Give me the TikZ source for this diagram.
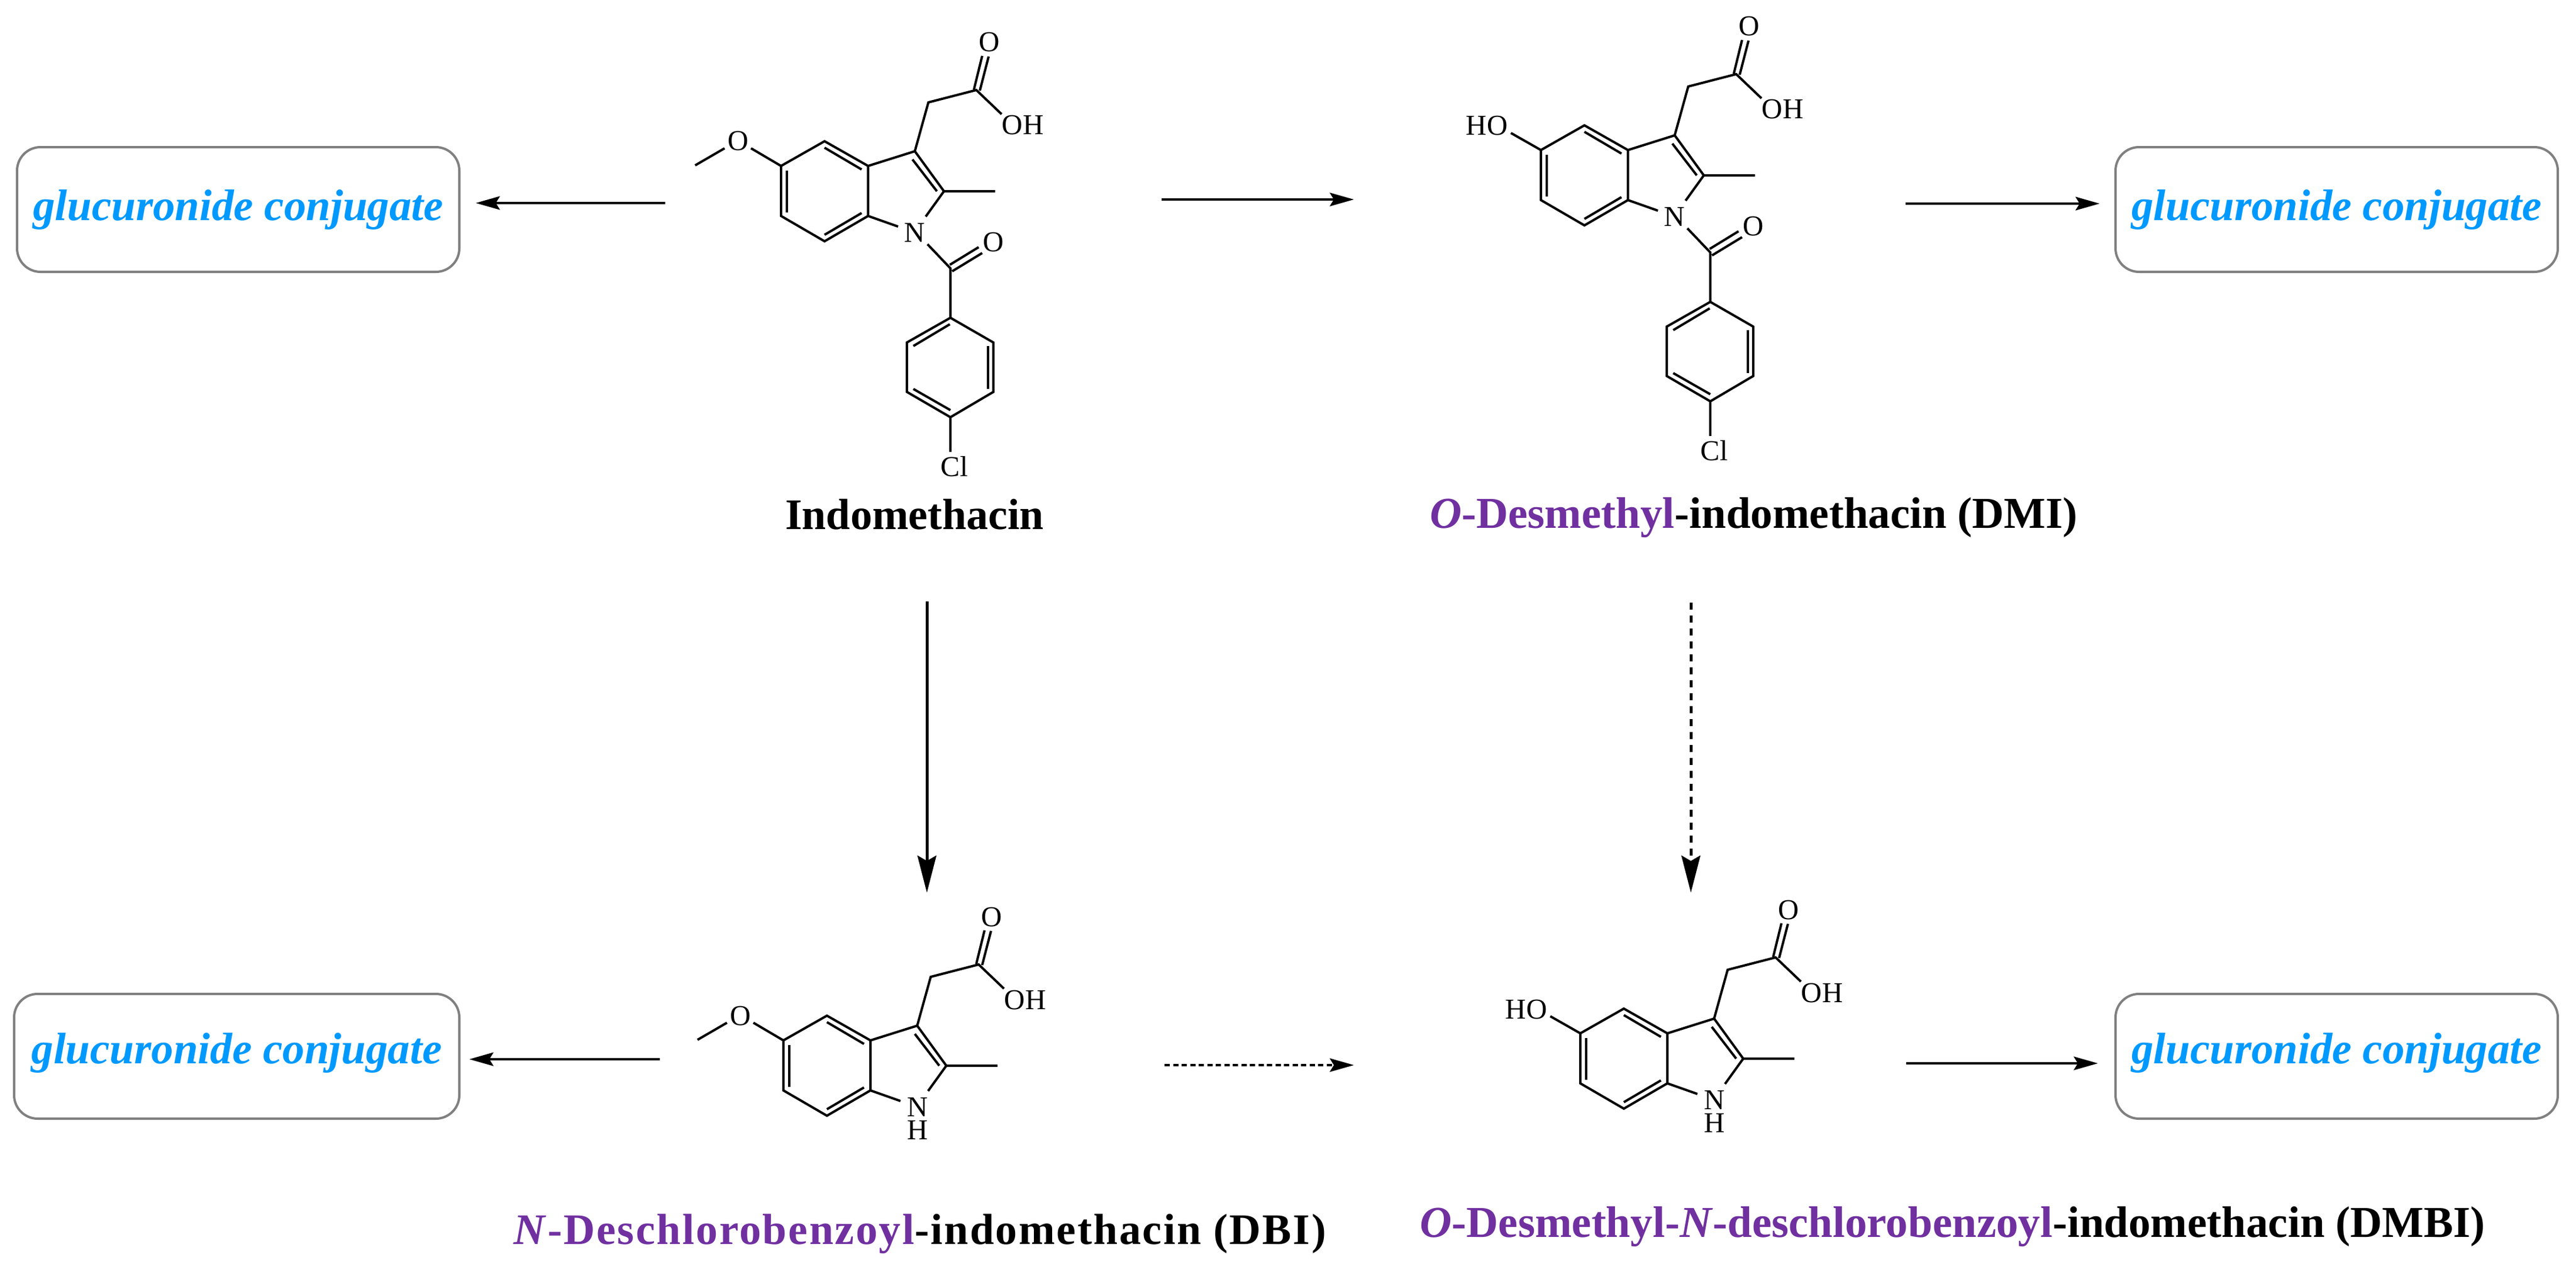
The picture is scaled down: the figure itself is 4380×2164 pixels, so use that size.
\documentclass[tikz,border=0pt]{standalone}
\usepackage{fontspec}
\setmainfont{Liberation Serif}
\usetikzlibrary{arrows.meta}
\definecolor{glucblue}{RGB}{0,153,255}
\definecolor{labpurple}{RGB}{112,48,160}
\definecolor{boxgray}{RGB}{128,128,128}
\newcommand{\atomfont}{\fontsize{49}{49}\selectfont}
\newcommand{\titlefont}{\fontsize{74}{80}\selectfont\bfseries}
\newcommand{\purp}[1]{\textcolor{labpurple}{#1}}
% indole core drawn relative to C5
\newcommand{\indolecore}[1]{%
  \draw[bond] (0,0) -- (74,-42) -- (148,0) -- (148,85) -- (74,128) -- (0,85) -- cycle;
  \draw[bond] (74,-31) -- (137,6);
  \draw[bond] (10,8) -- (10,79);
  \draw[bond] (74,117) -- (137,80);
  \draw[bond] (148,0) -- (227.5,-25) -- (277,43) -- (364,43);
  \draw[bond] (223.5,-11) -- (265,43);
  \draw[bond] (148,85) -- (199,103);
  \draw[bond] (277,43) -- (246,86);
  \draw[bond] (227.5,-25) -- (250.5,-108) -- (332,-129) -- (375,-88);
  \draw[bond] (328,-130) -- (342,-187);
  \draw[bond] (338,-128) -- (353,-186);
  \node[atom] (#1Otop) at (354.6,-210) {O};
  \node[atom] (#1OH) at (411,-69) {OH};
}
% N-(4-chlorobenzoyl) group
\newcommand{\benzoyl}[1]{%
  \node[atom] (#1N) at (227.5,113) {N};
  \draw[bond] (249,133) -- (288,174) -- (288,258);
  \draw[bond] (287,168) -- (336,138);
  \draw[bond] (291,179) -- (342,148);
  \node[atom] (#1Oam) at (361,130) {O};
  \draw[bond] (288,258) -- (361,300) -- (361,384) -- (288,427) -- (214,384) -- (214,300) -- cycle;
  \draw[bond] (287,269) -- (225,306);
  \draw[bond] (352,306) -- (352,379);
  \draw[bond] (225,379) -- (288,415);
  \draw[bond] (288,427) -- (288,486);
  \node[atom] (#1Cl) at (295,511) {Cl};
}
\newcommand{\methoxy}[1]{%
  \node[atom] (#1OMe) at (-73,-42) {O};
  \draw[bond] (0,0) -- (-51,-30);
  \draw[bond] (-96,-30) -- (-146,-1);
}
\newcommand{\hydroxy}[1]{%
  \node[atom] (#1HO) at (-92,-41) {HO};
  \draw[bond] (0,0) -- (-51,-29);
}
\begin{document}
\begin{tikzpicture}[x=1pt,y=-1pt,
  bond/.style={line width=4pt,black,line join=miter},
  atom/.style={inner sep=0pt,font=\atomfont,text=black},
  nh/.style={inner sep=0pt,align=center,font=\fontsize{49}{39.5}\selectfont,text=black},
  gbox/.style={draw=boxgray,line width=4pt,rounded corners=40pt,fill=white,minimum width=752pt,minimum height=212pt,inner sep=0pt,font=\fontsize{75}{80}\selectfont\bfseries\itshape,text=glucblue,text depth=16pt},
  title/.style={inner sep=0pt,font=\titlefont,text=black},
  titlewide/.style={inner sep=0pt,font=\fontsize{75}{80}\selectfont\bfseries,text=black},
  smallarrow/.style={line width=3.3pt,-{Stealth[length=41pt,width=23pt,inset=7pt]}},
  bigarrow/.style={line width=5pt,-{Stealth[length=63pt,width=32pt,inset=9pt]}}
]
\useasboundingbox (0,0) rectangle (4380,2164);
\fill[white] (0,0) rectangle (4380,2164);

% boxes
\node[gbox,text height=52pt] (g1) at (405,356) {glucuronide conjugate};
\node[gbox,text height=52pt] (g2) at (3973,356) {glucuronide conjugate};
\node[gbox,text height=40pt,minimum width=757pt] (g3) at (402.5,1795) {glucuronide conjugate};
\node[gbox,text height=40pt] (g4) at (3973,1795) {glucuronide conjugate};

% molecules
\begin{scope}[shift={(1328,282)}]
  \indolecore{a}\benzoyl{a}\methoxy{a}
\end{scope}
\begin{scope}[shift={(2620,255)}]
  \indolecore{b}\benzoyl{b}\hydroxy{b}
\end{scope}
\begin{scope}[shift={(1332,1768)}]
  \indolecore{c}\methoxy{c}
  \node[nh] (cNH) at (228,133) {N\\H};
\end{scope}
\begin{scope}[shift={(2687,1756)}]
  \indolecore{d}\hydroxy{d}
  \node[nh] (dNH) at (228,133) {N\\H};
\end{scope}

% titles
\node[title] (t1) at (1555,874) {Indomethacin};
\node[titlewide] (t2) at (2982,880) {\purp{\textit{O}-Desmethyl}-indomethacin (DMI)};
\node[title] (t3) at (1564,2097) {\addfontfeatures{LetterSpace=3.5}\purp{\textit{N}-Deschlorobenzoyl}-indomethacin (DBI)};
\node[titlewide] (t4) at (3320,2085) {\purp{\textit{O}-Desmethyl-\textit{N}-deschlorobenzoyl}-indomethacin (DMBI)};

% arrow ends
\coordinate (a1s) at (1131,345); \coordinate (a1e) at (809,345);
\coordinate (a2s) at (1975,339); \coordinate (a2e) at (2302,339);
\coordinate (a3s) at (3240,346); \coordinate (a3e) at (3570,346);
\coordinate (a4s) at (1576,1022); \coordinate (a4e) at (1576,1517);
\coordinate (a5s) at (2875,1024); \coordinate (a5e) at (2875,1517);
\coordinate (a6s) at (1122,1800); \coordinate (a6e) at (798,1800);
\coordinate (a7s) at (1980,1810); \coordinate (a7e) at (2302,1810);
\coordinate (a8s) at (3241,1807); \coordinate (a8e) at (3567,1807);

\draw[smallarrow] (a1s) -- (a1e);
\draw[smallarrow] (a2s) -- (a2e);
\draw[smallarrow] (a3s) -- (a3e);
\draw[bigarrow] (a4s) -- (a4e);
\draw[bigarrow,dash pattern=on 12pt off 10pt] (a5s) -- (a5e);
\draw[smallarrow] (a6s) -- (a6e);
\draw[smallarrow,dash pattern=on 9pt off 5.5pt] (a7s) -- (a7e);
\draw[smallarrow] (a8s) -- (a8e);
\end{tikzpicture}
\end{document}
